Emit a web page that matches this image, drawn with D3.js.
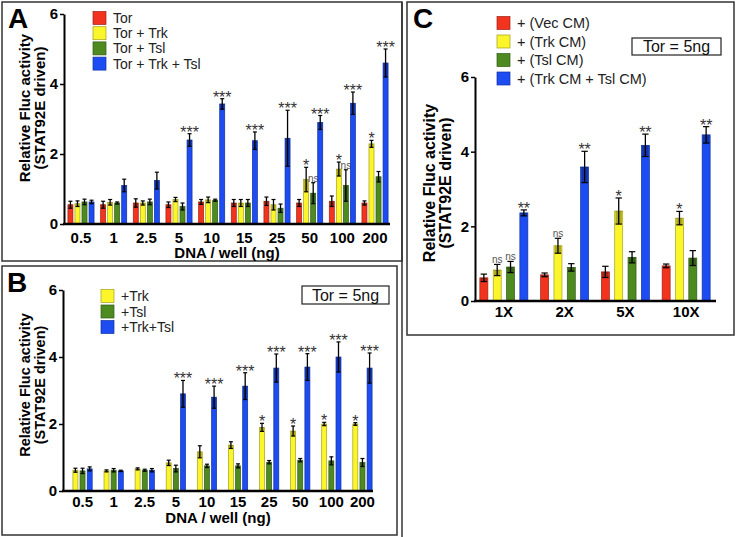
<!DOCTYPE html>
<html lang="en">
<head>
<meta charset="utf-8">
<style>
  body { margin: 0; background: #fff; }
  svg text { font-family: "Liberation Sans", Arial, sans-serif; }
  .axis path, .axis line { stroke: #000; }
  .axis text { font-weight: bold; fill: #000; }
</style>
</head>
<body>
<svg width="737" height="537"></svg>
<script src="https://d3js.org/d3.v7.min.js"></script>
<script>
// ---- data ----
var doses = ["0.5", "1", "2.5", "5", "10", "15", "25", "50", "100", "200"];
var cmGroups = ["1X", "2X", "5X", "10X"];

// panel A
var torA        = [0.55, 0.55, 0.60, 0.55, 0.63, 0.60, 0.65, 0.60, 0.65, 0.60];
var torErrA     = [0.10, 0.10, 0.12, 0.08, 0.07, 0.10, 0.12, 0.10, 0.15, 0.06];
var torTrkA     = [0.58, 0.62, 0.60, 0.70, 0.69, 0.60, 0.55, 1.27, 1.57, 2.29];
var torTrkErrA  = [0.08, 0.08, 0.06, 0.06, 0.08, 0.10, 0.15, 0.35, 0.20, 0.10];
var torTslA     = [0.63, 0.60, 0.63, 0.50, 0.68, 0.60, 0.45, 0.88, 1.10, 1.35];
var torTslErrA  = [0.08, 0.03, 0.08, 0.10, 0.03, 0.10, 0.12, 0.30, 0.45, 0.15];
var torAllA     = [0.63, 1.10, 1.24, 2.40, 3.43, 2.38, 2.45, 2.90, 3.45, 4.60];
var torAllErrA  = [0.05, 0.18, 0.24, 0.18, 0.15, 0.25, 0.80, 0.20, 0.32, 0.40];
var sigTrkA     = ["", "", "", "", "", "", "", "*", "*", "*"];
var sigTslA     = ["", "", "", "", "", "", "", "ns", "ns", ""];
var sigAllA     = ["", "", "", "***", "***", "***", "***", "***", "***", "***"];

// panel B
var trkB        = [0.62, 0.60, 0.66, 0.84, 1.17, 1.37, 1.90, 1.79, 2.00, 2.00];
var trkErrB     = [0.06, 0.03, 0.03, 0.08, 0.18, 0.10, 0.12, 0.15, 0.05, 0.04];
var tslB        = [0.60, 0.62, 0.62, 0.67, 0.75, 0.75, 0.86, 0.92, 0.90, 0.85];
var tslErrB     = [0.08, 0.05, 0.03, 0.10, 0.05, 0.06, 0.05, 0.05, 0.12, 0.12];
var trkTslB     = [0.66, 0.60, 0.62, 2.90, 2.80, 3.13, 3.67, 3.70, 4.00, 3.67];
var trkTslErrB  = [0.06, 0.02, 0.05, 0.40, 0.33, 0.40, 0.42, 0.40, 0.45, 0.45];
var sigTrkB     = ["", "", "", "", "", "", "*", "*", "*", "*"];
var sigTrkTslB  = ["", "", "", "***", "***", "***", "***", "***", "***", "***"];

// panel C
var vecC        = [0.62, 0.70, 0.78, 0.94];
var vecErrC     = [0.10, 0.05, 0.15, 0.05];
var trkC        = [0.83, 1.48, 2.41, 2.22];
var trkErrC     = [0.15, 0.20, 0.35, 0.18];
var tslC        = [0.91, 0.90, 1.17, 1.15];
var tslErrC     = [0.15, 0.10, 0.15, 0.20];
var trkTslC     = [2.36, 3.59, 4.17, 4.45];
var trkTslErrC  = [0.08, 0.42, 0.30, 0.22];
var sigTrkC     = ["ns", "ns", "*", "*"];
var sigTslC     = ["ns", "", "", ""];
var sigTrkTslC  = ["**", "**", "**", "**"];

var yTicks = [0, 2, 4, 6];

var red = "#f2341e", yellow = "#fbf52c", green = "#4d8b21", blue = "#1c4cf2";

var svg = d3.select("svg");

// panel frames
svg.append("rect").attr("x", 2).attr("y", 2).attr("width", 400).attr("height", 259)
  .attr("fill", "none").attr("stroke", "#333").attr("stroke-width", 1.5);
svg.append("rect").attr("x", 2).attr("y", 266).attr("width", 395).attr("height", 269)
  .attr("fill", "none").attr("stroke", "#333").attr("stroke-width", 1.5);
svg.append("line").attr("x1", 402).attr("x2", 402).attr("y1", 2).attr("y2", 537)
  .attr("stroke", "#333").attr("stroke-width", 1.5);
svg.append("rect").attr("x", 407).attr("y", 2).attr("width", 327).attr("height", 333)
  .attr("fill", "none").attr("stroke", "#333").attr("stroke-width", 1.5);

function panel(o) {
  var g = svg.append("g");

  var x0 = d3.scaleBand().domain(o.groups).range(o.xRange)
    .paddingInner(o.pIn).paddingOuter(o.pOut);
  var x1 = d3.scaleBand().domain(d3.range(o.series.length))
    .range([0, x0.bandwidth()]).paddingInner(o.pBar);
  var y = d3.scaleLinear().domain([0, 6]).range(o.yRange);

  o.series.forEach(function(s, si) {
    var rows = o.groups.map(function(name, i) {
      return { g: name, v: s.values[i], e: s.err[i], sig: s.sig ? s.sig[i] : "" };
    });
    var bw = x1.bandwidth();
    var sg = g.append("g");

    sg.selectAll("rect.bar").data(rows).enter().append("rect")
      .attr("class", "bar")
      .attr("x", function(d) { return x0(d.g) + x1(si); })
      .attr("width", bw)
      .attr("y", function(d) { return y(d.v); })
      .attr("height", function(d) { return y(0) - y(d.v); })
      .attr("fill", s.color)
      .attr("stroke", d3.color(s.color).darker(1.2))
      .attr("stroke-width", 0.7);

    // darker band where the error bar overlaps the bar
    sg.selectAll("rect.band").data(rows).enter().append("rect")
      .attr("class", "band")
      .attr("x", function(d) { return x0(d.g) + x1(si) + bw * 0.1; })
      .attr("width", bw * 0.8)
      .attr("y", function(d) { return y(d.v); })
      .attr("height", function(d) { return y(Math.max(0, d.v - d.e)) - y(d.v); })
      .attr("fill", "#000").attr("opacity", 0.3);

    var cx = function(d) { return x0(d.g) + x1(si) + bw / 2; };
    var cap = Math.min(bw * 0.8, 7);

    sg.selectAll("line.err").data(rows).enter().append("line")
      .attr("x1", cx).attr("x2", cx)
      .attr("y1", function(d) { return y(Math.max(0, d.v - d.e)); })
      .attr("y2", function(d) { return y(d.v + d.e); })
      .attr("stroke", "#000").attr("stroke-width", 1.3);
    ["top", "bot"].forEach(function(which) {
      sg.selectAll("line.cap" + which).data(rows).enter().append("line")
        .attr("x1", function(d) { return cx(d) - cap / 2; })
        .attr("x2", function(d) { return cx(d) + cap / 2; })
        .attr("y1", function(d) { return which === "top" ? y(d.v + d.e) : y(Math.max(0, d.v - d.e)); })
        .attr("y2", function(d) { return which === "top" ? y(d.v + d.e) : y(Math.max(0, d.v - d.e)); })
        .attr("stroke", "#000").attr("stroke-width", 1.2);
    });

    sg.selectAll("text.sig").data(rows.filter(function(d) { return d.sig; })).enter().append("text")
      .attr("x", cx)
      .attr("y", function(d) { return d.sig === "ns" ? y(d.v + d.e) - 1 : y(d.v + d.e) + 4; })
      .attr("text-anchor", "middle")
      .attr("font-size", function(d) { return d.sig === "ns" ? 10 : 16; })
      .attr("fill", function(d) { return d.sig === "ns" ? "#555" : "#333"; })
      .text(function(d) { return d.sig; });
  });

  // y axis
  var ya = g.append("g").attr("class", "axis")
    .attr("transform", "translate(" + o.yAxisX + ",0)")
    .call(d3.axisLeft(y).tickValues(yTicks).tickFormat(d3.format("d"))
      .tickSize(4).tickSizeOuter(0).tickPadding(2));
  ya.select(".domain").attr("stroke-width", 2);
  ya.selectAll(".tick line").attr("stroke-width", 1.5);
  ya.selectAll("text").attr("font-size", 15).attr("font-family", "Liberation Sans, Arial, sans-serif");

  // x axis
  g.append("line").attr("x1", o.yAxisX - 1).attr("x2", o.xAxisEnd)
    .attr("y1", y(0)).attr("y2", y(0)).attr("stroke", "#000").attr("stroke-width", 2.5);
  var xa = g.append("g").attr("class", "axis")
    .attr("transform", "translate(0," + y(0) + ")")
    .call(d3.axisBottom(x0).tickSize(0).tickPadding(o.xPad));
  xa.select(".domain").remove();
  xa.selectAll("text").attr("font-size", 15).attr("font-family", "Liberation Sans, Arial, sans-serif");

  // titles
  if (o.xTitle) {
    g.append("text").attr("x", o.xTitle[0]).attr("y", o.xTitle[1])
      .attr("text-anchor", "middle").attr("font-weight", "bold").attr("font-size", 15)
      .text("DNA / well (ng)");
  }
  var yl = g.append("text").attr("text-anchor", "middle").attr("font-weight", "bold")
    .attr("font-size", o.yLabFont)
    .attr("transform", "translate(" + o.yLab[0] + "," + o.yLab[2] + ") rotate(-90)");
  yl.append("tspan").attr("x", 0).attr("y", 0).text("Relative Fluc activity");
  yl.append("tspan").attr("x", 0).attr("y", o.yLab[1] - o.yLab[0]).text("(STAT92E driven)");

  g.append("text").attr("x", o.letter[0]).attr("y", o.letter[1])
    .attr("font-weight", "bold").attr("font-size", 28).text(o.letterText);

  // legend
  o.series.forEach(function(s, si) {
    var ly = o.legend[1] + si * o.legend[2];
    g.append("rect").attr("x", o.legend[0]).attr("y", ly - 6.5)
      .attr("width", 13).attr("height", 13)
      .attr("fill", s.color).attr("stroke", d3.color(s.color).darker(1.2)).attr("stroke-width", 0.7);
    g.append("text").attr("x", o.legend[0] + 20).attr("y", ly + 5)
      .attr("font-size", o.legendFont).attr("fill", "#222").text(s.name);
  });

  if (o.torBox) {
    var b = o.torBox;
    g.append("rect").attr("x", b[0]).attr("y", b[1]).attr("width", b[2] - b[0]).attr("height", b[3] - b[1])
      .attr("fill", "none").attr("stroke", "#222").attr("stroke-width", 1.2);
    g.append("text").attr("x", (b[0] + b[2]) / 2).attr("y", b[3] - 3.5)
      .attr("text-anchor", "middle").attr("font-size", 16).attr("fill", "#111").text("Tor = 5ng");
  }
}

panel({
  groups: doses, xRange: [64, 392], pIn: 0.2, pOut: 0.12, pBar: 0.286,
  yRange: [224, 14], yAxisX: 64, xAxisEnd: 390, xPad: 8,
  xTitle: [227, 258], yLab: [30, 45, 108], yLabFont: 15,
  letter: [8, 28], letterText: "A",
  legend: [93, 18, 15.2], legendFont: 14,
  series: [
    { name: "Tor", color: red, values: torA, err: torErrA },
    { name: "Tor + Trk", color: yellow, values: torTrkA, err: torTrkErrA, sig: sigTrkA },
    { name: "Tor + Tsl", color: green, values: torTslA, err: torTslErrA, sig: sigTslA },
    { name: "Tor + Trk + Tsl", color: blue, values: torAllA, err: torAllErrA, sig: sigAllA }
  ]
});

panel({
  groups: doses, xRange: [67, 378], pIn: 0.38, pOut: 0.19, pBar: 0.3,
  yRange: [491, 290], yAxisX: 63, xAxisEnd: 373, xPad: 5,
  xTitle: [218, 523], yLab: [30, 45, 385], yLabFont: 14.5,
  letter: [7, 292], letterText: "B",
  legend: [101, 296, 15.5], legendFont: 14,
  torBox: [302, 286, 389, 304],
  series: [
    { name: "+Trk", color: yellow, values: trkB, err: trkErrB, sig: sigTrkB },
    { name: "+Tsl", color: green, values: tslB, err: tslErrB },
    { name: "+Trk+Tsl", color: blue, values: trkTslB, err: trkTslErrB, sig: sigTrkTslB }
  ]
});

panel({
  groups: cmGroups, xRange: [475, 715], pIn: 0.21, pOut: 0.08, pBar: 0.4,
  yRange: [301, 77], yAxisX: 475, xAxisEnd: 716, xPad: 5.5,
  xTitle: null, yLab: [435, 451, 183], yLabFont: 16,
  letter: [413, 28], letterText: "C",
  legend: [497, 23, 18.5], legendFont: 14.5,
  torBox: [632, 38, 721, 55],
  series: [
    { name: "+ (Vec CM)", color: red, values: vecC, err: vecErrC },
    { name: "+ (Trk CM)", color: yellow, values: trkC, err: trkErrC, sig: sigTrkC },
    { name: "+ (Tsl CM)", color: green, values: tslC, err: tslErrC, sig: sigTslC },
    { name: "+ (Trk CM + Tsl CM)", color: blue, values: trkTslC, err: trkTslErrC, sig: sigTrkTslC }
  ]
});
</script>
</body>
</html>
